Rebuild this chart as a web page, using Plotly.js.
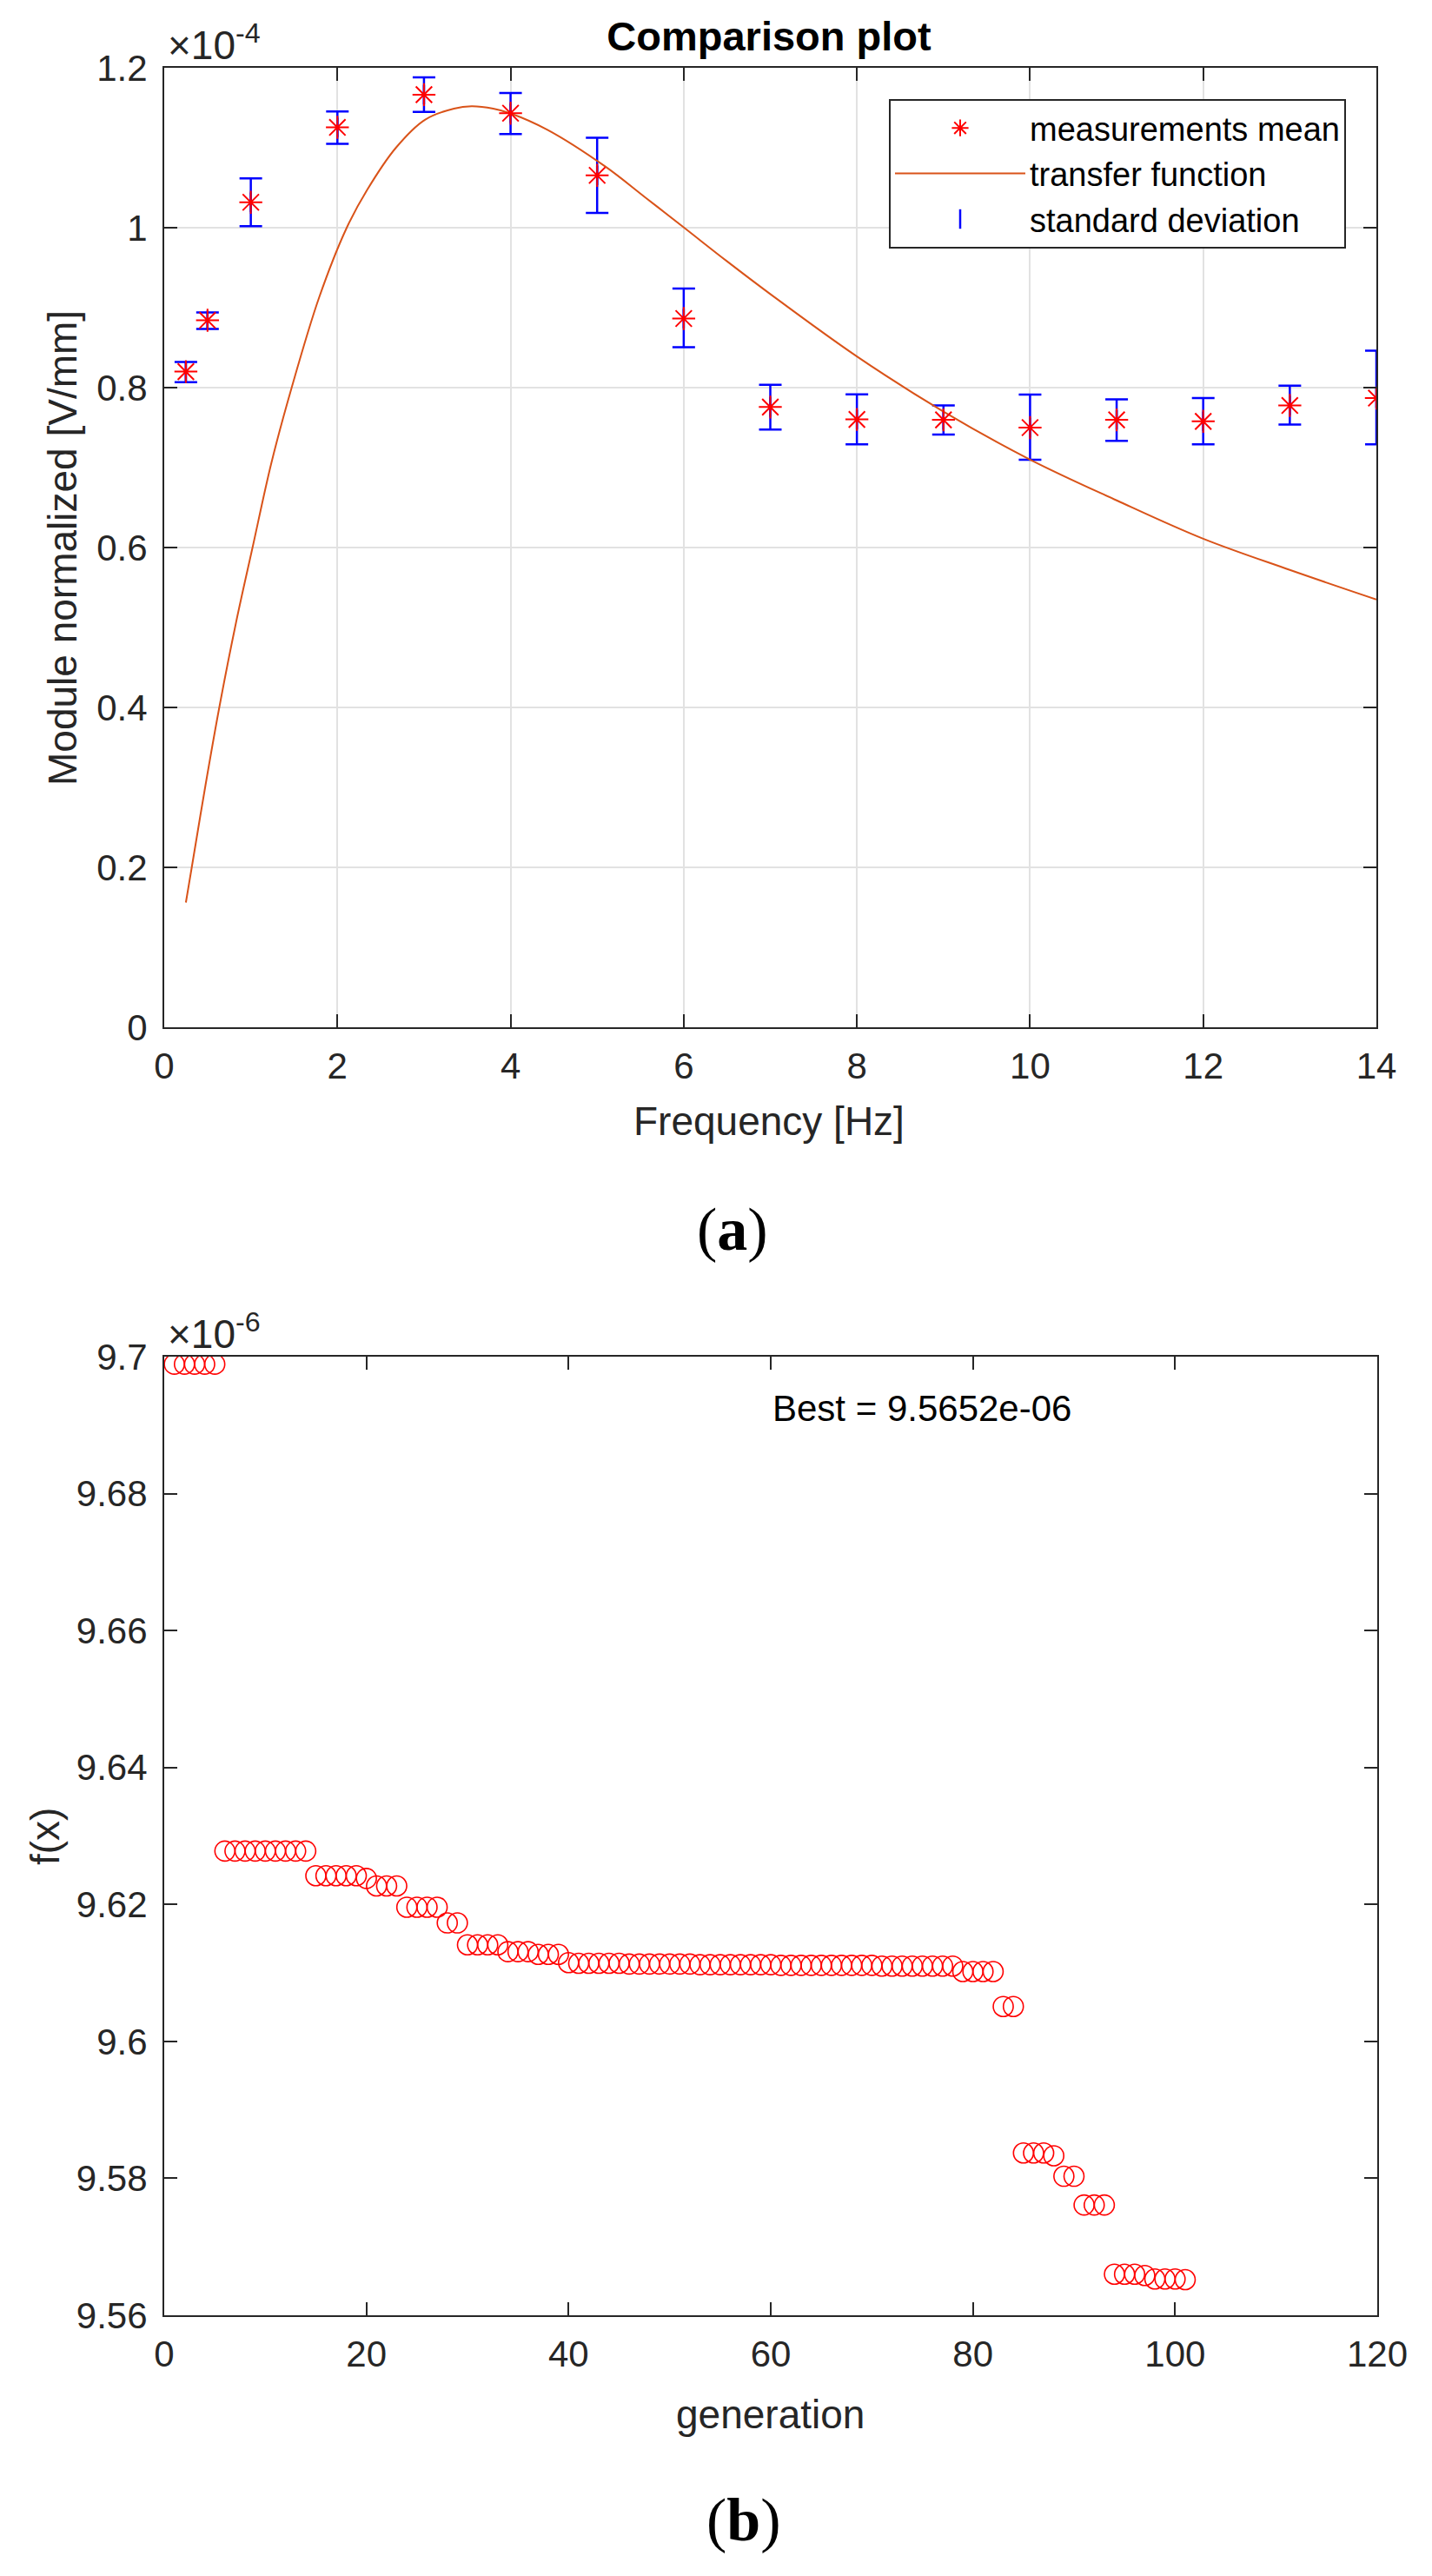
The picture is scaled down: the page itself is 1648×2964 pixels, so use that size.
<!DOCTYPE html>
<html>
<head>
<meta charset="utf-8">
<script src="https://cdn.plot.ly/plotly-3.0.1.min.js"></script>
<style>
  html, body { margin: 0; padding: 0; background: #ffffff; }
  #chart { width: 1648px; height: 2964px; }
</style>
</head>
<body>
<div id="chart"></div>
<script>
// ---------- Panel (a): comparison plot (values in units of 1e-4 V/mm) ----------
const freqHz = [0.25, 0.5, 1, 2, 3, 4, 5, 6, 7, 8, 9, 10, 11, 12, 13, 14];
const meanModule = [0.8200, 0.8842, 1.0318, 1.1255, 1.1664, 1.1432, 1.0655, 0.8864, 0.7757, 0.7602, 0.7597, 0.7500, 0.7597, 0.7578, 0.7777, 0.7869];
const upperModule = [0.8320, 0.8940, 1.0618, 1.1455, 1.1880, 1.1684, 1.1126, 0.9238, 0.8034, 0.7917, 0.7777, 0.7913, 0.7854, 0.7869, 0.8024, 0.8461];
const lowerModule = [0.8068, 0.8735, 1.0018, 1.1050, 1.1448, 1.1172, 1.0184, 0.8505, 0.7476, 0.7291, 0.7413, 0.7097, 0.7335, 0.7291, 0.7539, 0.7291];

const tfFreq = [0.25, 0.318, 0.477, 0.636, 0.828, 1.02, 1.238, 1.472, 1.79, 2.108, 2.342, 2.676, 3.011, 3.346, 3.55, 3.8, 4.0, 4.426, 5.095, 5.55, 6.005, 6.5, 7.0, 8.0, 9.0, 10, 11, 12, 13, 14];
const tfModule = [0.156, 0.200, 0.303, 0.400, 0.5055, 0.600, 0.706, 0.800, 0.913, 1.000, 1.047, 1.100, 1.135, 1.149, 1.152, 1.149, 1.143, 1.1225, 1.0765, 1.0384, 1.000, 0.958, 0.917, 0.839, 0.770, 0.710, 0.659, 0.611, 0.572, 0.535];

const exponentA = -4;
const ticksFreq = [0, 2, 4, 6, 8, 10, 12, 14];
const ticksModule = [0, 0.2, 0.4, 0.6, 0.8, 1, 1.2];

// ---------- Panel (b): best fitness per generation (values in units of 1e-6) ----------
const generation = [1, 2, 3, 4, 5, 6, 7, 8, 9, 10,
  11, 12, 13, 14, 15, 16, 17, 18, 19, 20,
  21, 22, 23, 24, 25, 26, 27, 28, 29, 30,
  31, 32, 33, 34, 35, 36, 37, 38, 39, 40,
  41, 42, 43, 44, 45, 46, 47, 48, 49, 50,
  51, 52, 53, 54, 55, 56, 57, 58, 59, 60,
  61, 62, 63, 64, 65, 66, 67, 68, 69, 70,
  71, 72, 73, 74, 75, 76, 77, 78, 79, 80,
  81, 82, 83, 84, 85, 86, 87, 88, 89, 90,
  91, 92, 93, 94, 95, 96, 97, 98, 99, 100, 101];
const bestFx = [9.6989, 9.6989, 9.6989, 9.6989, 9.6989, 9.6278, 9.6278, 9.6278, 9.6278, 9.6278,
  9.6278, 9.6278, 9.6278, 9.6278, 9.6242, 9.6242, 9.6242, 9.6242, 9.6242, 9.6238,
  9.6227, 9.6227, 9.6227, 9.6196, 9.6196, 9.6196, 9.6196, 9.6173, 9.6173, 9.6141,
  9.6141, 9.6141, 9.6141, 9.6131, 9.6131, 9.6131, 9.6127, 9.6127, 9.6127, 9.6115,
  9.6114, 9.6114, 9.6114, 9.6114, 9.6114, 9.6113, 9.6113, 9.6113, 9.6113, 9.6113,
  9.6113, 9.6113, 9.6112, 9.6112, 9.6112, 9.6112, 9.6112, 9.6112, 9.6112, 9.6112,
  9.6111, 9.6111, 9.6111, 9.6111, 9.6111, 9.6111, 9.6111, 9.6111, 9.6111, 9.6111,
  9.6110, 9.6110, 9.6110, 9.6110, 9.6110, 9.6110, 9.6110, 9.6110, 9.6102, 9.6102,
  9.6102, 9.6102, 9.6051, 9.6051, 9.5837, 9.5837, 9.5837, 9.5833, 9.5803, 9.5803,
  9.5761, 9.5761, 9.5761, 9.5660, 9.5660, 9.5660, 9.5658, 9.5653, 9.5653, 9.5653, 9.5652];
const exponentB = -6;
const bestLabel = 'Best = 9.5652e-06';
const ticksGen = [0, 20, 40, 60, 80, 100, 120];
const ticksFx = [9.56, 9.58, 9.6, 9.62, 9.64, 9.66, 9.68, 9.7];

// ---------- helpers for layout (pixel -> paper) ----------
const W = 1648, H = 2964;
const px = v => v / W;
const py = v => 1 - v / H;

const AX = '#262626';
const SANS = 'Liberation Sans, Arial, Helvetica, sans-serif';
const SERIF = 'Liberation Serif, DejaVu Serif, serif';

const errPlus = upperModule.map((u, i) => u - meanModule[i]);
const errMinus = meanModule.map((m, i) => m - lowerModule[i]);

const traces = [
  {
    x: freqHz, y: meanModule, xaxis: 'x', yaxis: 'y',
    type: 'scatter', mode: 'markers', name: 'standard deviation', legendrank: 3,
    marker: { symbol: 'line-ns-open', size: 16, color: '#0000ff', line: { color: '#0000ff', width: 2.5 } },
    error_y: { type: 'data', symmetric: false, array: errPlus, arrayminus: errMinus,
               color: '#0000ff', thickness: 2.5, width: 13 },
    hoverinfo: 'skip'
  },
  {
    x: tfFreq, y: tfModule, xaxis: 'x', yaxis: 'y',
    type: 'scatter', mode: 'lines', name: 'transfer function', legendrank: 2,
    line: { color: '#D95319', width: 2, shape: 'spline', smoothing: 1 },
    hoverinfo: 'skip'
  },
  {
    x: freqHz, y: meanModule, xaxis: 'x', yaxis: 'y',
    type: 'scatter', mode: 'markers', name: 'measurements mean', legendrank: 1,
    marker: { symbol: 'asterisk-open', size: 22, color: '#ff0000', line: { color: '#ff0000', width: 2 } },
    hoverinfo: 'skip'
  },
  {
    x: generation, y: bestFx, xaxis: 'x2', yaxis: 'y2',
    type: 'scatter', mode: 'markers', name: 'best', showlegend: false,
    marker: { symbol: 'circle-open', size: 23, color: '#ff0000', line: { color: '#ff0000', width: 1.6 } },
    hoverinfo: 'skip'
  }
];

function axisCommon() {
  return {
    showline: true, linecolor: AX, linewidth: 2, mirror: 'ticks',
    ticks: 'inside', ticklen: 15, tickwidth: 2, tickcolor: AX,
    zeroline: false,
    tickfont: { family: SANS, size: 42, color: AX }
  };
}

const layout = {
  width: W, height: H,
  margin: { l: 0, r: 0, t: 0, b: 0, pad: 0 },
  paper_bgcolor: '#ffffff', plot_bgcolor: '#ffffff',
  showlegend: true,
  title: {
    text: '<b>Comparison plot</b>',
    font: { family: SANS, size: 47, color: '#000000' },
    x: px(885), xanchor: 'center', xref: 'paper',
    y: py(42), yanchor: 'middle', yref: 'container'
  },
  xaxis: Object.assign(axisCommon(), {
    domain: [px(189), px(1584)], anchor: 'y', range: [0, 14],
    tickvals: ticksFreq, showgrid: true, gridcolor: '#e2e2e2', gridwidth: 2,
    ticklabelstandoff: 7
  }),
  yaxis: Object.assign(axisCommon(), {
    domain: [py(1182), py(78)], anchor: 'x', range: [0, 1.2],
    tickvals: ticksModule, showgrid: true, gridcolor: '#e2e2e2', gridwidth: 2,
    ticklabelstandoff: 9
  }),
  xaxis2: Object.assign(axisCommon(), {
    domain: [px(189), px(1585)], anchor: 'y2', range: [0, 120],
    tickvals: ticksGen, showgrid: false, ticklabelstandoff: 7
  }),
  yaxis2: Object.assign(axisCommon(), {
    domain: [py(2664), py(1561)], anchor: 'x2', range: [9.56, 9.70],
    tickvals: ticksFx, showgrid: false, ticklabelstandoff: 9
  }),
  legend: {
    x: px(1549), xanchor: 'right', y: py(114), yanchor: 'top',
    bgcolor: '#ffffff', bordercolor: AX, borderwidth: 2,
    font: { family: SANS, size: 38, color: '#000000' },
    itemwidth: 150, tracegroupgap: 0, traceorder: 'normal'
  },
  annotations: [
    { text: '×10<sup>' + exponentA + '</sup>', xref: 'paper', yref: 'paper',
      x: px(191), y: py(80), xanchor: 'left', yanchor: 'bottom', showarrow: false,
      font: { family: SANS, size: 46, color: AX } },
    { text: 'Module normalized [V/mm]', xref: 'paper', yref: 'paper', textangle: -90,
      x: px(72), y: py(631), xanchor: 'center', yanchor: 'middle', showarrow: false,
      font: { family: SANS, size: 46, color: AX } },
    { text: 'Frequency [Hz]', xref: 'paper', yref: 'paper',
      x: px(885), y: py(1290), xanchor: 'center', yanchor: 'middle', showarrow: false,
      font: { family: SANS, size: 46, color: AX } },
    { text: '(<b>a</b>)', xref: 'paper', yref: 'paper',
      x: px(843), y: py(1414), xanchor: 'center', yanchor: 'middle', showarrow: false,
      font: { family: SERIF, size: 70, color: '#000000' } },
    { text: '×10<sup>' + exponentB + '</sup>', xref: 'paper', yref: 'paper',
      x: px(191), y: py(1563), xanchor: 'left', yanchor: 'bottom', showarrow: false,
      font: { family: SANS, size: 46, color: AX } },
    { text: bestLabel, xref: 'x2', yref: 'y2',
      x: 60, y: 9.6924, xanchor: 'left', yanchor: 'middle', showarrow: false,
      font: { family: SANS, size: 42, color: '#000000' } },
    { text: 'f(x)', xref: 'paper', yref: 'paper', textangle: -90,
      x: px(52), y: py(2113), xanchor: 'center', yanchor: 'middle', showarrow: false,
      font: { family: SANS, size: 46, color: AX } },
    { text: 'generation', xref: 'paper', yref: 'paper',
      x: px(886), y: py(2778), xanchor: 'center', yanchor: 'middle', showarrow: false,
      font: { family: SANS, size: 46, color: AX } },
    { text: '(<b>b</b>)', xref: 'paper', yref: 'paper',
      x: px(856), y: py(2899), xanchor: 'center', yanchor: 'middle', showarrow: false,
      font: { family: SERIF, size: 70, color: '#000000' } }
  ]
};

Plotly.newPlot('chart', traces, layout, { displayModeBar: false, staticPlot: true });
</script>
</body>
</html>
